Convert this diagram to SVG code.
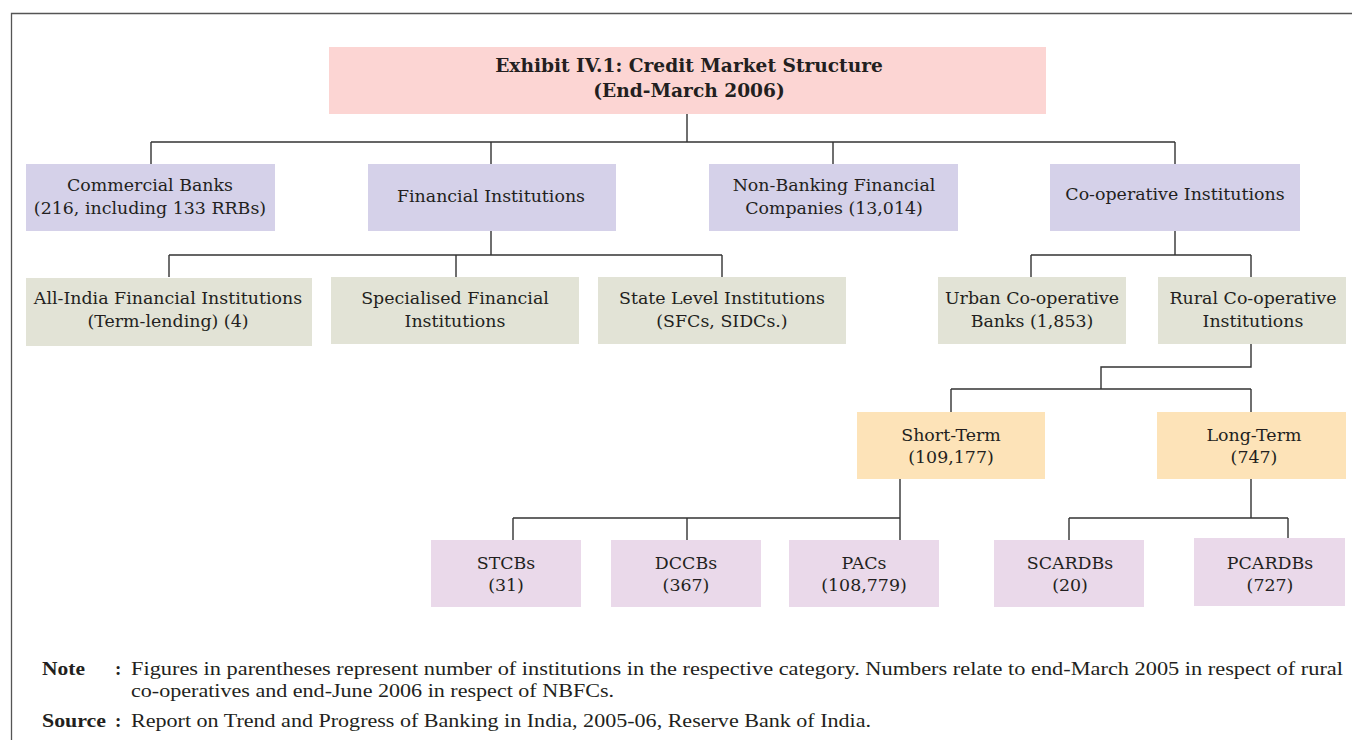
<svg xmlns="http://www.w3.org/2000/svg" width="1352" height="740" viewBox="0 0 1352 740">
  <style>
    .box text { font-family: "DejaVu Serif", "Liberation Serif", serif; font-size: 17.4px; fill: #231f20; text-anchor: middle; }
    .title text { font-weight: bold; font-size: 18.6px; }
    .l1 { fill: #d5d1e9; }
    .l2 { fill: #e2e3d6; }
    .l3 { fill: #fde3b8; }
    .l4 { fill: #ead9ea; }
    .conn { fill: none; stroke: #333; stroke-width: 1.4; }
    .foot { font-family: "Liberation Serif", "DejaVu Serif", serif; font-size: 19px; fill: #231f20; }
    .foot .b { font-weight: bold; }
  </style>

  <!-- frame -->
  <path d="M1352 13.5 H11.5 V740" fill="none" stroke="#555" stroke-width="1.3"/>

  <!-- connectors -->
  <g id="connectors" class="conn">
    <path d="M687 114 V142 M151 142 H1175 M151 142 V164 M491 142 V164 M833 142 V164 M1175 142 V164"/>
    <path d="M491 231 V255 M169 255 H722 M169 255 V277 M456 255 V277 M722 255 V277"/>
    <path d="M1175 231 V255 M1031 255 H1251 M1031 255 V277 M1251 255 V277"/>
    <path d="M1251 344 V367 H1101 V389 M951 389 H1251 M951 389 V412 M1251 389 V412"/>
    <path d="M900 479 V518 M513 518 H900 M513 518 V540 M687 518 V540 M900 518 V540"/>
    <path d="M1251 479 V518 M1069 518 H1288 M1069 518 V540 M1288 518 V538"/>
  </g>

  <!-- title -->
  <g id="title" class="box title">
    <rect x="329" y="47" width="717" height="67" fill="#fcd5d3"/>
    <text x="689" y="72">Exhibit IV.1: Credit Market Structure</text>
    <text x="689" y="97">(End-March 2006)</text>
  </g>

  <!-- first level -->
  <g id="commercial-banks" class="box">
    <rect class="l1" x="26" y="164" width="249" height="67"/>
    <text x="150" y="191">Commercial Banks</text>
    <text x="150" y="214">(216, including 133 RRBs)</text>
  </g>
  <g id="financial-institutions" class="box">
    <rect class="l1" x="368" y="164" width="248" height="67"/>
    <text x="491" y="202">Financial Institutions</text>
  </g>
  <g id="nbfc" class="box">
    <rect class="l1" x="709" y="164" width="249" height="67"/>
    <text x="834" y="191">Non-Banking Financial</text>
    <text x="834" y="214">Companies (13,014)</text>
  </g>
  <g id="cooperative-institutions" class="box">
    <rect class="l1" x="1050" y="164" width="250" height="67"/>
    <text x="1175" y="200">Co-operative Institutions</text>
  </g>

  <!-- second level -->
  <g id="all-india-fi" class="box">
    <rect class="l2" x="26" y="278" width="286" height="68"/>
    <text x="168" y="304">All-India Financial Institutions</text>
    <text x="168" y="327">(Term-lending) (4)</text>
  </g>
  <g id="specialised-fi" class="box">
    <rect class="l2" x="331" y="277" width="248" height="67"/>
    <text x="455" y="304">Specialised Financial</text>
    <text x="455" y="327">Institutions</text>
  </g>
  <g id="state-level" class="box">
    <rect class="l2" x="598" y="277" width="248" height="67"/>
    <text x="722" y="304">State Level Institutions</text>
    <text x="722" y="327">(SFCs, SIDCs.)</text>
  </g>
  <g id="urban-coop" class="box">
    <rect class="l2" x="938" y="277" width="188" height="67"/>
    <text x="1032" y="304">Urban Co-operative</text>
    <text x="1032" y="327">Banks (1,853)</text>
  </g>
  <g id="rural-coop" class="box">
    <rect class="l2" x="1158" y="277" width="188" height="67"/>
    <text x="1253" y="304">Rural Co-operative</text>
    <text x="1253" y="327">Institutions</text>
  </g>

  <!-- third level -->
  <g id="short-term" class="box">
    <rect class="l3" x="857" y="412" width="188" height="67"/>
    <text x="951" y="441">Short-Term</text>
    <text x="951" y="463">(109,177)</text>
  </g>
  <g id="long-term" class="box">
    <rect class="l3" x="1157" y="412" width="189" height="67"/>
    <text x="1254" y="441">Long-Term</text>
    <text x="1254" y="463">(747)</text>
  </g>

  <!-- fourth level -->
  <g id="stcbs" class="box">
    <rect class="l4" x="431" y="540" width="150" height="67"/>
    <text x="506" y="569">STCBs</text>
    <text x="506" y="591">(31)</text>
  </g>
  <g id="dccbs" class="box">
    <rect class="l4" x="611" y="540" width="150" height="67"/>
    <text x="686" y="569">DCCBs</text>
    <text x="686" y="591">(367)</text>
  </g>
  <g id="pacs" class="box">
    <rect class="l4" x="789" y="540" width="150" height="67"/>
    <text x="864" y="569">PACs</text>
    <text x="864" y="591">(108,779)</text>
  </g>
  <g id="scardbs" class="box">
    <rect class="l4" x="994" y="540" width="150" height="67"/>
    <text x="1070" y="569">SCARDBs</text>
    <text x="1070" y="591">(20)</text>
  </g>
  <g id="pcardbs" class="box">
    <rect class="l4" x="1194" y="538" width="151" height="68"/>
    <text x="1270" y="569">PCARDBs</text>
    <text x="1270" y="591">(727)</text>
  </g>

  <!-- footnotes -->
  <g id="notes" class="foot">
    <text class="b" x="42" y="675" textLength="43" lengthAdjust="spacingAndGlyphs">Note</text>
    <text class="b" x="115" y="675">:</text>
    <text x="131" y="675" textLength="1212" lengthAdjust="spacingAndGlyphs">Figures in parentheses represent number of institutions in the respective category. Numbers relate to end-March 2005 in respect of rural</text>
    <text x="131" y="697" textLength="483" lengthAdjust="spacingAndGlyphs">co-operatives and end-June 2006 in respect of NBFCs.</text>
    <text class="b" x="42" y="727" textLength="64" lengthAdjust="spacingAndGlyphs">Source</text>
    <text class="b" x="115" y="727">:</text>
    <text x="131" y="727" textLength="740" lengthAdjust="spacingAndGlyphs">Report on Trend and Progress of Banking in India, 2005-06, Reserve Bank of India.</text>
  </g>
</svg>
